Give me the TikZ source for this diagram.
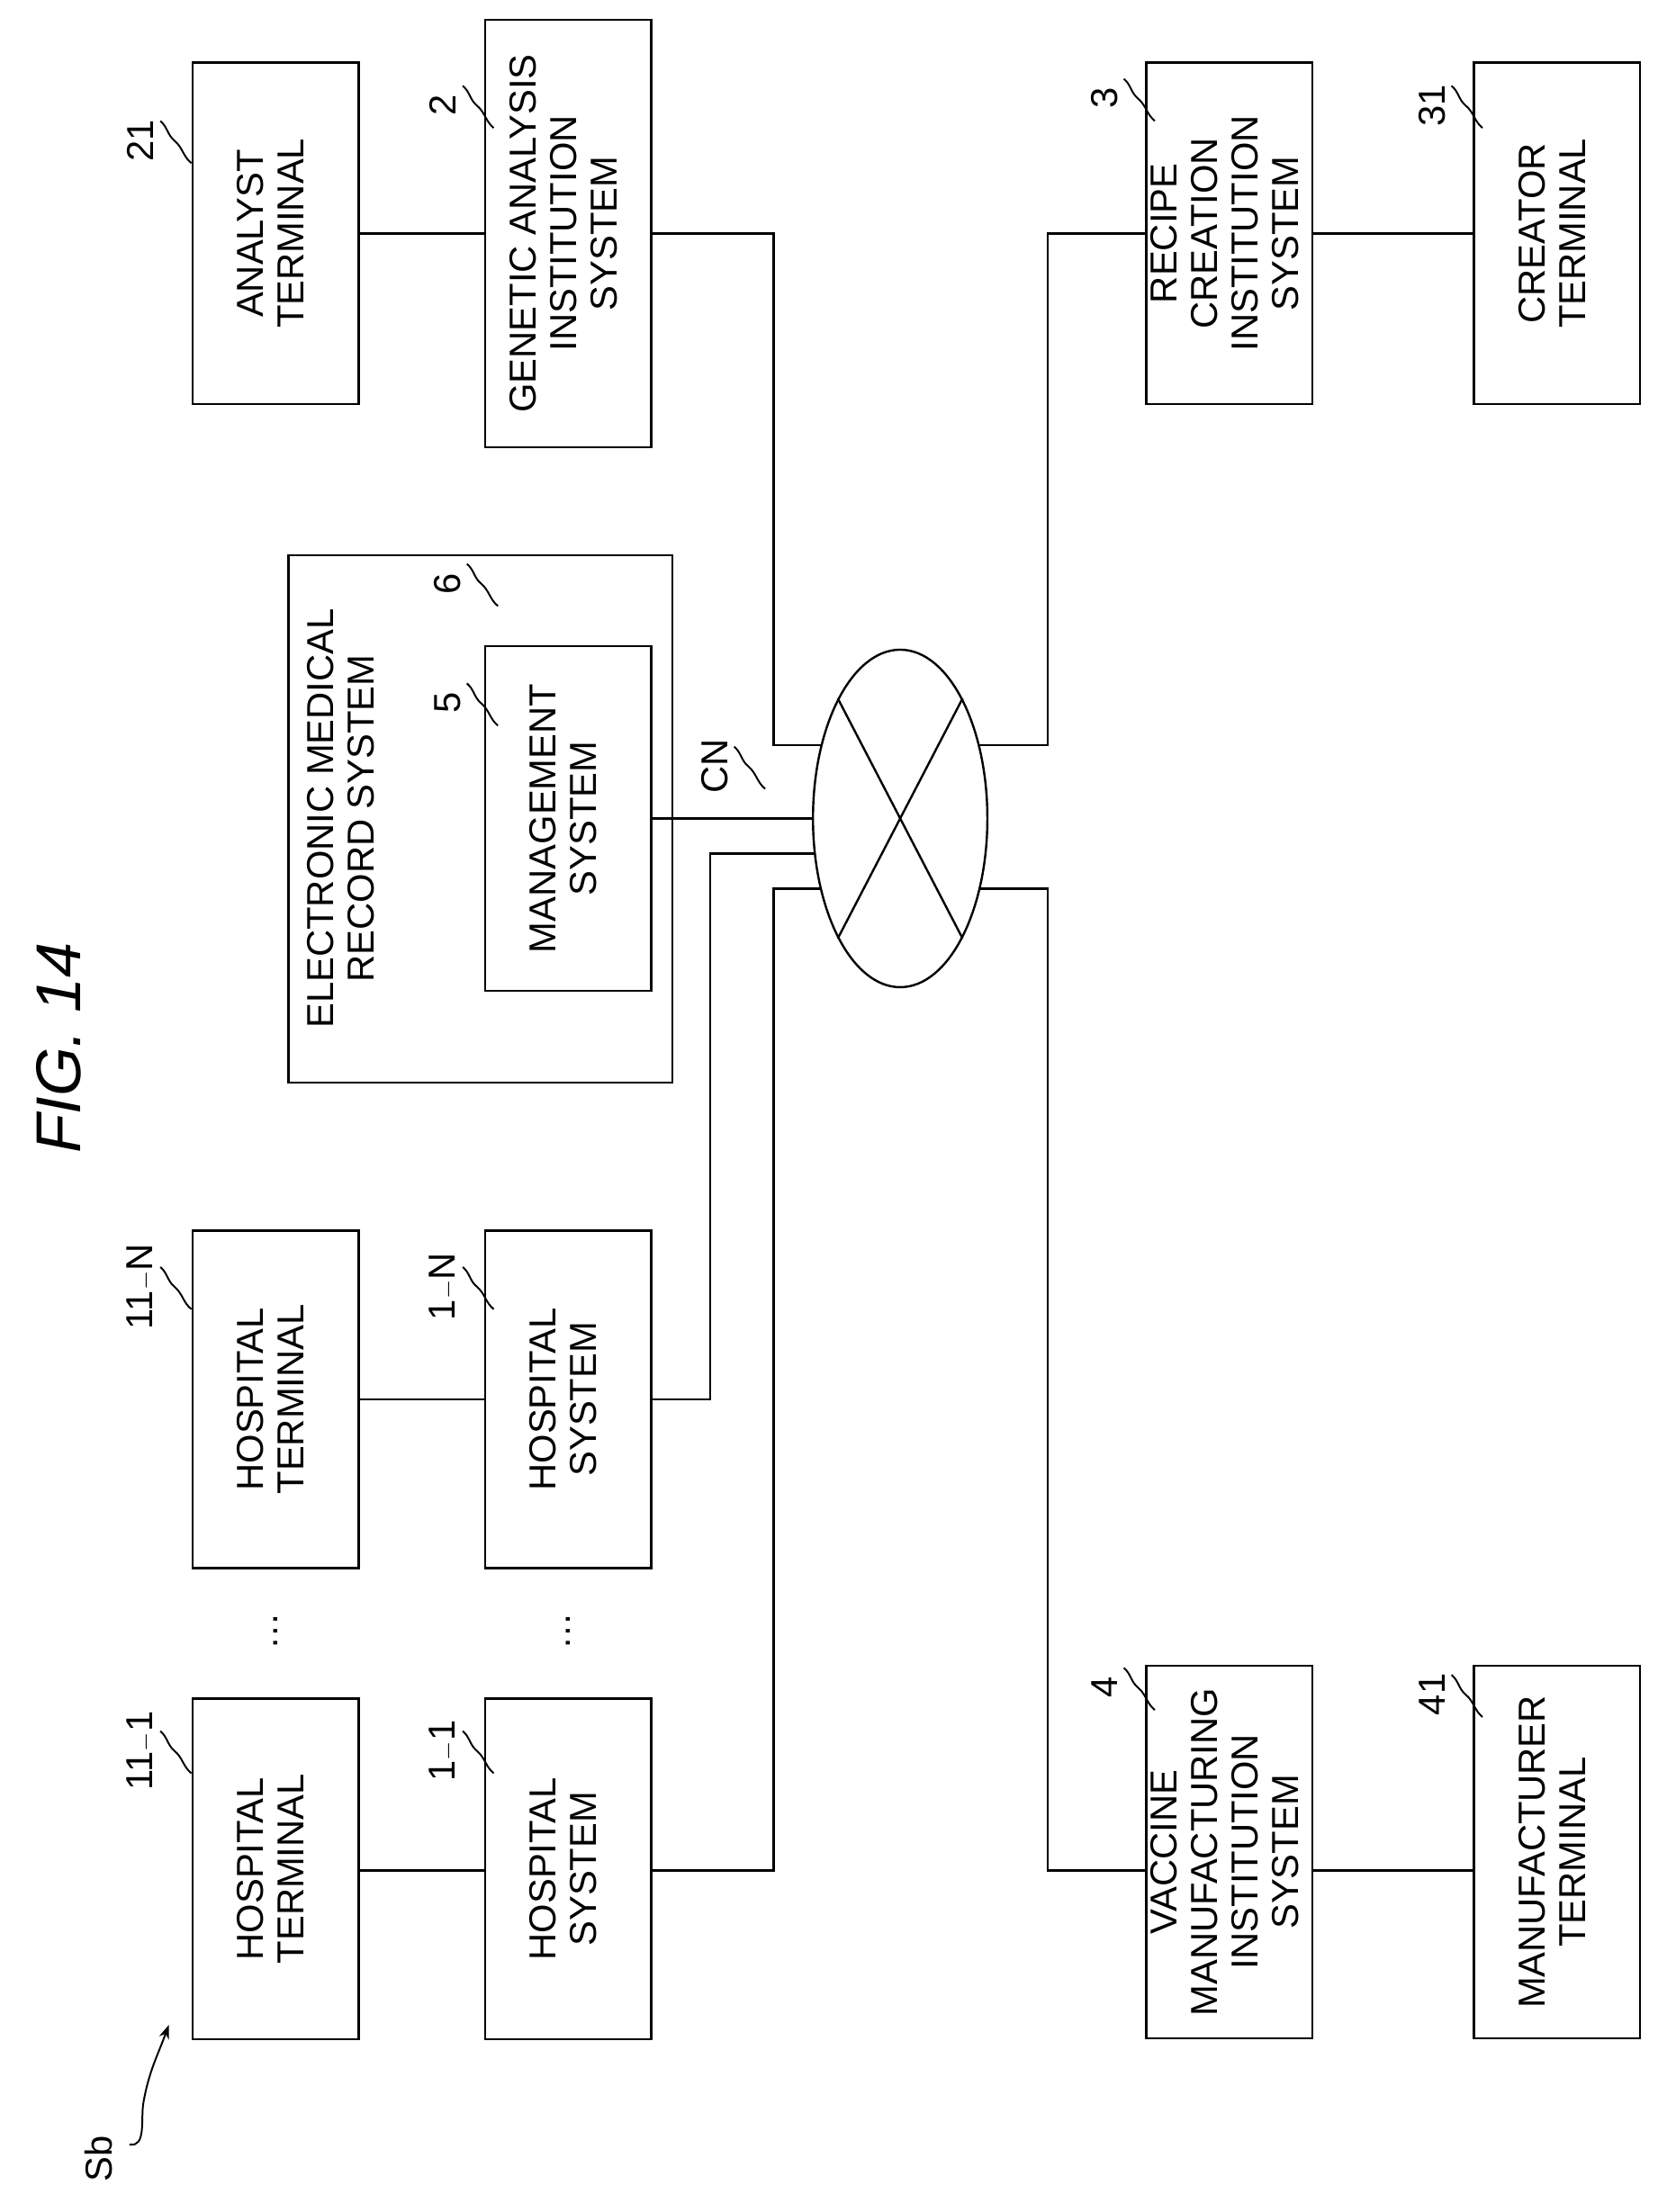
\documentclass[tikz,border=0pt]{standalone}
\usepackage{fontspec}
\setmainfont{Liberation Sans}
\usetikzlibrary{calc,shapes.geometric,arrows.meta}

\tikzset{
  box/.style={draw, line width=2.2pt, inner sep=0pt},
  wire/.style={line width=2.2pt},
  num/.style={rotate=90, inner sep=0pt},
  lead/.style={line width=1.8pt}
}
\newcommand{\vtext}[1]{\rotatebox{90}{\begin{tabular}{@{}c@{}}#1\end{tabular}}}
\newcommand{\refnum}[3]{%
  \node[num] (#1) at #2 {#3};
  \draw[lead] ($(#1)+(14,14)$) to[out=-40,in=140] ($(#1)+(24,0)$) to[out=-40,in=140] ($(#1)+(36,-16)$);}

\begin{document}
\begin{tikzpicture}[x=0.05cm,y=0.05cm,font=\fontsize{38}{41}\selectfont]
  \useasboundingbox (0,0) rectangle (1185,-1573);
  % title
  \node[rotate=90, font=\fontsize{64}{70}\selectfont\itshape] (fig) at (42,-745) {FIG. 14};
  % top row
  \node[box, minimum width=118*0.05cm, minimum height=243*0.05cm] (at) at (196,-166) {\vtext{ANALYST\\TERMINAL}};
  \node[box, minimum width=118*0.05cm, minimum height=304*0.05cm] (ga) at (404,-166) {\vtext{GENETIC ANALYSIS\\INSTITUTION\\SYSTEM}};
  \node[box, minimum width=118*0.05cm, minimum height=243*0.05cm] (rc) at (874,-166) {\vtext{RECIPE\\CREATION\\INSTITUTION\\SYSTEM}};
  \node[box, minimum width=118*0.05cm, minimum height=243*0.05cm] (ct) at (1107,-166) {\vtext{CREATOR\\TERMINAL}};
  % electronic medical record system
  \draw[box] (205,-395) rectangle (478,-770);
  \node[anchor=west, inner sep=0pt] (emrtxt) at (217,-582) {\vtext{ELECTRONIC MEDICAL\\RECORD SYSTEM}};
  \node[box, minimum width=118*0.05cm, minimum height=245*0.05cm] (ms) at (404,-582) {\vtext{MANAGEMENT\\SYSTEM}};
  % network
  \node[draw, ellipse, line width=2.2pt, minimum width=124*0.05cm, minimum height=240*0.05cm] (cn) at (640,-582) {};
  \draw[wire] (cn.north west) -- (cn.south east);
  \draw[wire] (cn.north east) -- (cn.south west);
  \coordinate (cnA) at (584,-530);
  \coordinate (cnB) at (696,-530);
  \coordinate (cnC) at (579,-607);
  \coordinate (cnD) at (584,-632);
  \coordinate (cnE) at (696,-632);
  % hospitals
  \node[box, minimum width=118*0.05cm, minimum height=240*0.05cm] (htn) at (196,-995) {\vtext{HOSPITAL\\TERMINAL}};
  \node[box, minimum width=118*0.05cm, minimum height=240*0.05cm] (hsn) at (404,-995) {\vtext{HOSPITAL\\SYSTEM}};
  \node[box, minimum width=118*0.05cm, minimum height=242*0.05cm] (ht1) at (196,-1329) {\vtext{HOSPITAL\\TERMINAL}};
  \node[box, minimum width=118*0.05cm, minimum height=242*0.05cm] (hs1) at (404,-1329) {\vtext{HOSPITAL\\SYSTEM}};
  \node[rotate=90] (dots1) at (196,-1160) {\dots};
  \node[rotate=90] (dots2) at (404,-1160) {\dots};
  % vaccine
  \node[box, minimum width=118*0.05cm, minimum height=265*0.05cm] (vm) at (874,-1317) {\vtext{VACCINE\\MANUFACTURING\\INSTITUTION\\SYSTEM}};
  \node[box, minimum width=118*0.05cm, minimum height=265*0.05cm] (mt) at (1107,-1317) {\vtext{MANUFACTURER\\TERMINAL}};
  % connectors
  \draw[wire] (at.east |- 0,-166) -- (ga.west |- 0,-166);
  \draw[wire] (ga.east |- 0,-166) -- (550,-166) -- (550,-530) -- (cnA);
  \draw[wire] (rc.west |- 0,-166) -- (745,-166) -- (745,-530) -- (cnB);
  \draw[wire] (rc.east |- 0,-166) -- (ct.west |- 0,-166);
  \draw[wire] (ms.east) -- (cn.west);
  \draw[wire] (htn.east) -- (hsn.west);
  \draw[wire] (hsn.east) -- (505,-995) -- (505,-607) -- (cnC);
  \draw[wire] (ht1.east |- 0,-1330) -- (hs1.west |- 0,-1330);
  \draw[wire] (hs1.east |- 0,-1330) -- (550,-1330) -- (550,-632) -- (cnD);
  \draw[wire] (vm.west |- 0,-1330) -- (745,-1330) -- (745,-632) -- (cnE);
  \draw[wire] (vm.east |- 0,-1330) -- (mt.west |- 0,-1330);
  % reference numerals
  \refnum{n21}{(100,-100)}{21}
  \refnum{n2}{(315,-75)}{2}
  \refnum{n3}{(785,-70)}{3}
  \refnum{n31}{(1018,-75)}{31}
  \refnum{n6}{(318,-415)}{6}
  \refnum{n5}{(318,-500)}{5}
  \refnum{ncn}{(508,-545)}{CN}
  \refnum{n11N}{(100,-915)}{11$-$N}
  \refnum{n1N}{(315,-915)}{1$-$N}
  \refnum{n111}{(100,-1245)}{11$-$1}
  \refnum{n11}{(315,-1245)}{1$-$1}
  \refnum{n4}{(785,-1200)}{4}
  \refnum{n41}{(1018,-1205)}{41}
  % Sb
  \node[num] (sb) at (70,-1535) {Sb};
  \draw[lead, -{Stealth[length=14pt]}] ($(sb)+(22,10)$) to[out=-10,in=-100] ($(sb)+(32,40)$) to[out=80,in=-110] (120,-1440);
\end{tikzpicture}
\end{document}
